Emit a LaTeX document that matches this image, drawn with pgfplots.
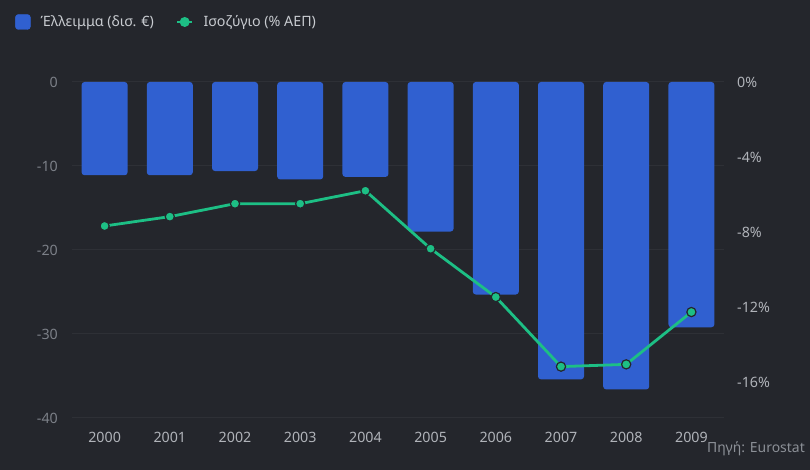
\documentclass[border=0pt]{standalone}
\usepackage{fontspec}
\setmainfont{Noto Sans}
\usepackage{pgfplots}
\pgfplotsset{compat=1.18}
\definecolor{bg}{HTML}{24262C}
\definecolor{barblue}{HTML}{3060D0}
\definecolor{lgreen}{HTML}{1DBF85}
\definecolor{gridc}{HTML}{2E3036}
\definecolor{ltick}{HTML}{7C8088}
\definecolor{rtick}{HTML}{B0B3B9}
\definecolor{xtickc}{HTML}{B0B3B9}
\definecolor{legtext}{HTML}{C8CBD0}
\definecolor{srcc}{HTML}{8C9097}
\begin{document}
\begin{tikzpicture}[x=1bp,y=1bp]
\fill[bg] (0,0) rectangle (810,470);
\begin{axis}[
  at={(72bp,52bp)}, anchor=south west,
  scale only axis, width=652bp, height=336bp,
  xmin=-0.5, xmax=9.5, ymin=-40, ymax=0,
  axis line style={draw=none},
  xtick={0,1,2,3,4,5,6,7,8,9},
  xticklabels={2000,2001,2002,2003,2004,2005,2006,2007,2008,2009},
  ytick={-40,-30,-20,-10,0},
  yticklabels={-40,-30,-20,-10,0},
  major tick length=0pt,
  ymajorgrids, grid style={gridc, line width=1bp},
  tick label style={font=\fontsize{14.3}{17}\selectfont},
  yticklabel style={ltick, inner sep=0pt, anchor=east, xshift=-14bp},
  xticklabel style={xtickc, inner sep=0pt, anchor=north, yshift=-13.5bp},
]
\addplot[ybar, bar width=46bp, fill=barblue, draw=none, rounded corners=3bp]
  coordinates {(0,-11.1) (1,-11.1) (2,-10.6) (3,-11.6) (4,-11.3) (5,-17.8) (6,-25.3) (7,-35.4) (8,-36.6) (9,-29.2)};
\end{axis}
\begin{axis}[
  at={(72bp,52bp)}, anchor=south west,
  scale only axis, width=652bp, height=336bp,
  xmin=-0.5, xmax=9.5, ymin=-17.92, ymax=0,
  axis x line=none,
  axis y line*=right, axis line style={draw=none},
  ytick={-16,-12,-8,-4,0},
  yticklabels={-16\%,-12\%,-8\%,-4\%,0\%},
  major tick length=0pt,
  tick label style={font=\fontsize{14.3}{17}\selectfont},
  yticklabel style={rtick, inner sep=0pt, anchor=west, xshift=13bp},
  legend columns=2,
  legend style={at={(-0.0874,1.1786)}, anchor=west, draw=none, fill=none,
    font=\fontsize{14.3}{17}\selectfont, text=legtext, inner sep=0pt,
    nodes={inner sep=0pt, anchor=west},
    /tikz/every odd column/.append style={column sep=10bp},
    /tikz/every even column/.append style={column sep=22bp}},
]
\addlegendimage{legend image code/.code={\fill[barblue, rounded corners=3bp] (0bp,-7.5bp) rectangle (15bp,7.5bp);}}
\addlegendentry{Έλλειμμα (δισ. €)}
\addplot[lgreen, line width=2.8bp, mark=*, mark size=4.6bp,
  mark options={fill=lgreen, draw=bg, line width=1.2bp},
  legend image code/.code={\draw[lgreen, line width=2.8bp] (0bp,0bp)--(15bp,0bp); \fill[lgreen] (7.5bp,0bp) circle (3.5bp);}]
  coordinates {(0,-7.68) (1,-7.18) (2,-6.49) (3,-6.49) (4,-5.80) (5,-8.89) (6,-11.47) (7,-15.18) (8,-15.06) (9,-12.27)};
\addlegendentry{Ισοζύγιο (\% ΑΕΠ)}
\end{axis}
\node[anchor=east, inner sep=0pt, text=srcc, font=\fontsize{14}{16}\selectfont] at (805,21) {Πηγή: Eurostat};
\end{tikzpicture}
\end{document}
